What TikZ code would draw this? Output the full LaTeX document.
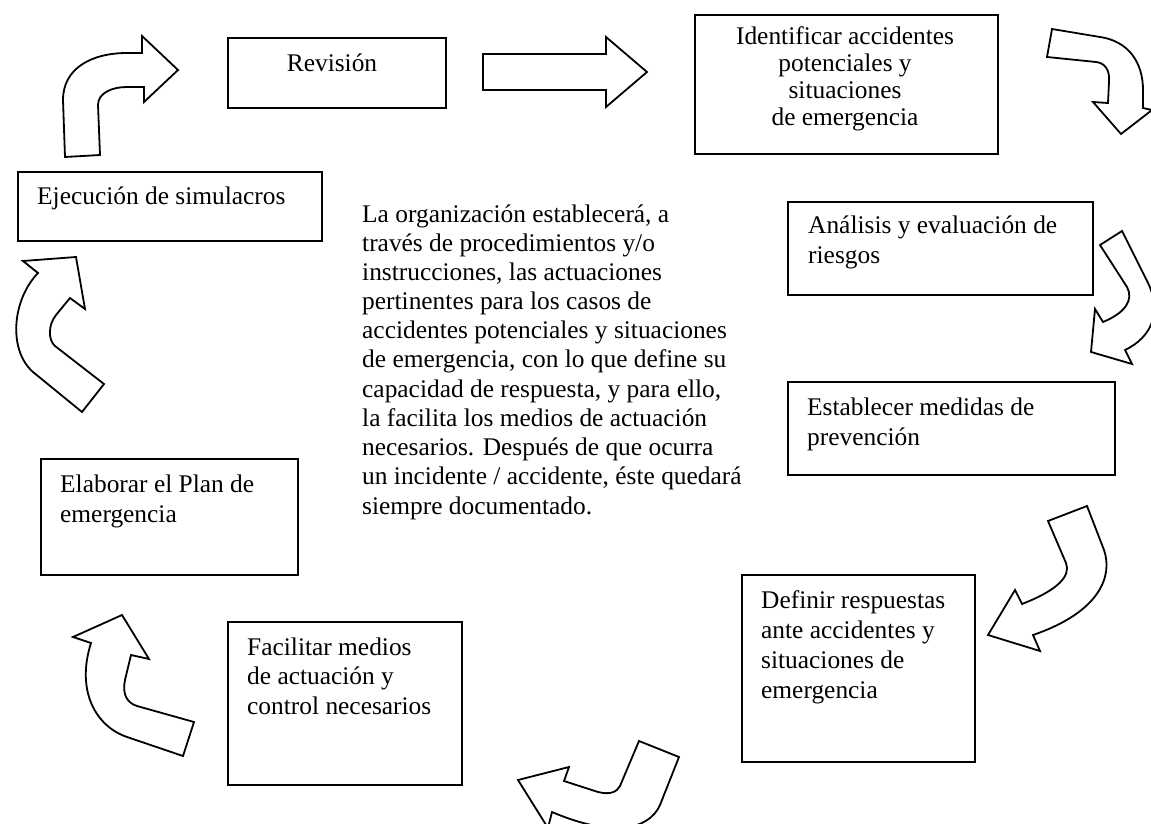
\documentclass[tikz,border=0pt]{standalone}
\usepackage{fontspec}
\setmainfont{Liberation Serif}
\newcommand\linesL[1]{\begin{tabular}[t]{@{}l@{}}#1\end{tabular}}
\newcommand\linesC[1]{\begin{tabular}[t]{@{}c@{}}#1\end{tabular}}
\begin{document}
\begin{tikzpicture}[x=1pt,y=-1pt,
  box/.style={draw,line width=1.8pt,inner sep=0pt,anchor=north west},
  shp/.style={draw,line width=1.8pt,line join=miter,fill=white},
  txt/.style={inner sep=0pt,anchor=base west,font=\fontsize{25.4}{30}\selectfont}]
\useasboundingbox (0,0) rectangle (1151,824);
\clip (0,0) rectangle (1151,824);
\fill[white] (0,0) rectangle (1151,824);

% boxes
\node[box,minimum width=218pt,minimum height=70pt] (rev) at (227,37) {};
\node[box,minimum width=303pt,minimum height=139pt] (ide) at (694,14) {};
\node[box,minimum width=304pt,minimum height=69pt] (eje) at (17,171) {};
\node[box,minimum width=305pt,minimum height=93pt] (ana) at (787,201) {};
\node[box,minimum width=327pt,minimum height=93pt] (est) at (787,381) {};
\node[box,minimum width=233pt,minimum height=187pt] (def) at (741,574) {};
\node[box,minimum width=234pt,minimum height=163pt] (fac) at (227,621) {};
\node[box,minimum width=257pt,minimum height=116pt] (ela) at (40,458) {};

% texts
\node[txt,anchor=base] (revt) at (332,72) {Revisión};
\node[txt,anchor=base,font=\fontsize{25.4}{26.7}\selectfont] (idet) at (845,45)
  {\linesC{Identificar accidentes\\potenciales y\\situaciones\\de emergencia}};
\node[txt] (ejet) at (37,204) {Ejecución de simulacros};
\node[txt] (anat) at (808,233) {\linesL{Análisis y evaluación de\\riesgos}};
\node[txt] (estt) at (807,415) {\linesL{Establecer medidas de\\prevención}};
\node[txt] (deft) at (761,608) {\linesL{Definir respuestas\\ante accidentes y\\situaciones de\\emergencia}};
\node[txt,font=\fontsize{25.4}{29.5}\selectfont] (fact) at (247,655) {\linesL{Facilitar medios\\de actuación y\\control necesarios}};
\node[txt] (elat) at (60,492) {\linesL{Elaborar el Plan de\\emergencia}};
\node[txt,font=\fontsize{25.4}{29.2}\selectfont] (cen) at (362,222) {\linesL{%
La organización establecerá, a\\
través de procedimientos y/o\\
instrucciones, las actuaciones\\
pertinentes para los casos de\\
accidentes potenciales y situaciones\\
de emergencia, con lo que define su\\
capacidad de respuesta, y para ello,\\
la facilita los medios de actuación\\
necesarios. Después de que ocurra\\
un incidente / accidente, éste quedará\\
siempre documentado.}};

% arrow: Ejecucion -> Revision
\draw[shp] (65,157) -- (63,100) .. controls (63,68) and (92,53) .. (127,53)
  -- (142,53) -- (142,36) -- (178,70) -- (144,102) -- (144,87) -- (127,87)
  .. controls (112,87) and (98,93) .. (98,105) -- (100,155) -- cycle;

% straight arrow
\draw[shp] (483,54) -- (606,54) -- (606,37) -- (647,72) -- (606,107) -- (606,90) -- (483,90) -- cycle;

% arrow: Identificar -> Analisis
\draw[shp] (1052,29) -- (1100,37) .. controls (1128,41) and (1143,62) .. (1143,90)
  -- (1143,108) -- (1152,110) -- (1121,134) -- (1093,102) -- (1108,103)
  -- (1109,82) .. controls (1110,70) and (1105,63) .. (1096,62) -- (1047,57) -- cycle;

% arrow: Analisis -> Establecer
\draw[shp] (1122,231) -- (1148,283) .. controls (1162,312) and (1152,337) .. (1125,350)
  -- (1132,364) -- (1091,352) -- (1095,309) -- (1103,322)
  .. controls (1125,313) and (1134,300) .. (1127,287) -- (1100,245) -- cycle;

% arrow: Establecer -> Definir
\draw[shp] (1087,506) -- (1104,550) .. controls (1113,576) and (1100,612) .. (1033,635)
  -- (1040,651) -- (988,635) -- (1015,590) -- (1022,604)
  .. controls (1058,590) and (1071,576) .. (1066,563) -- (1048,521) -- cycle;

% arrow: Definir -> Facilitar
\draw[shp] (679,757) -- (660,805) .. controls (648,832) and (608,836) .. (552,812)
  -- (548,828) -- (518,780) -- (569,767) -- (564,781) -- (598,792)
  .. controls (610,795) and (617,792) .. (620,786) -- (639,741) -- cycle;

% arrow: Facilitar -> Elaborar
\draw[shp] (194,722) -- (183,756) -- (127,737) .. controls (95,726) and (76,690) .. (91,643)
  -- (73,637) -- (122,615) -- (149,659) -- (131,655)
  -- (125,680) .. controls (122,694) and (127,703) .. (137,706) -- cycle;

% arrow: Elaborar -> Ejecucion
\draw[shp] (82,412) -- (33,372) .. controls (8,350) and (12,300) .. (38,273)
  -- (23,261) -- (76,257) -- (85,309) -- (70,298) -- (56,315)
  .. controls (48,325) and (48,340) .. (55,346) -- (104,384) -- cycle;
\end{tikzpicture}
\end{document}
